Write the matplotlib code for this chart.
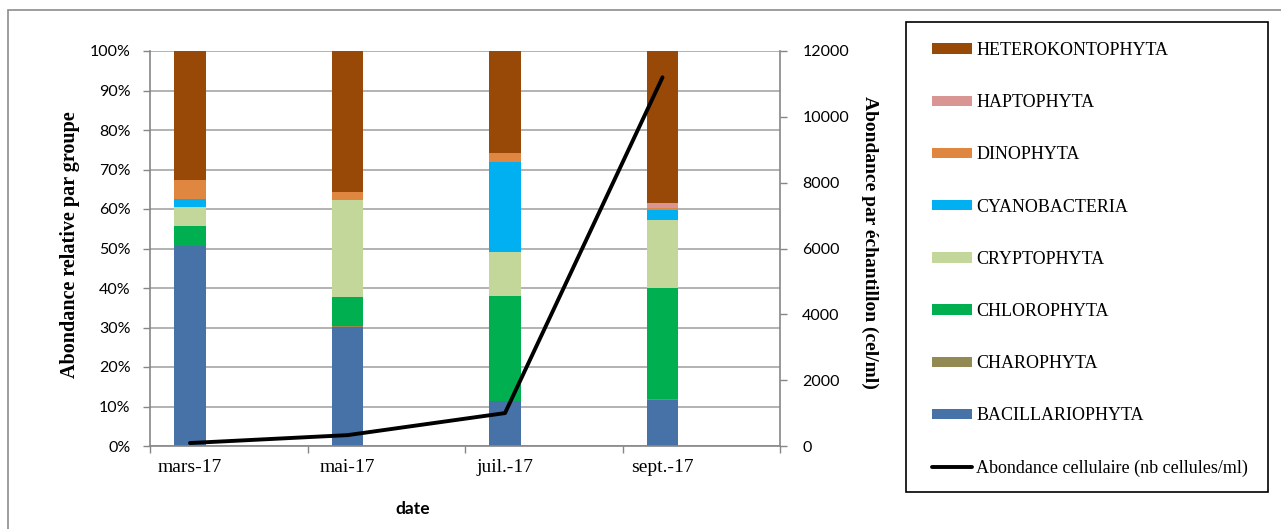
import numpy as np
import matplotlib
matplotlib.use('Agg')
import matplotlib.pyplot as plt
from matplotlib.ticker import PercentFormatter, FixedLocator
from matplotlib.patches import Rectangle

dates = ['mars-17', 'mai-17', 'juil.-17', 'sept.-17']

# relative abundance per group (%), stacked bottom -> top
bacillariophyta = [50.7, 30.2, 11.3, 11.6]
charophyta = [0.0, 0.3, 0.0, 0.3]
chlorophyta = [5.1, 7.3, 26.8, 28.0]
cryptophyta = [4.6, 24.5, 10.9, 17.3]
cyanobacteria = [2.1, 0.0, 23.0, 2.5]
dinophyta = [4.8, 2.0, 2.2, 0.5]
haptophyta = [0.0, 0.0, 0.0, 1.4]
heterokontophyta = [32.7, 35.7, 25.8, 38.4]

# cell abundance (cells/ml)
abondance = [90, 330, 1000, 11200]

groups = [
    ('BACILLARIOPHYTA', bacillariophyta, '#4672A8'),
    ('CHAROPHYTA', charophyta, '#938953'),
    ('CHLOROPHYTA', chlorophyta, '#00B050'),
    ('CRYPTOPHYTA', cryptophyta, '#C4D79B'),
    ('CYANOBACTERIA', cyanobacteria, '#00B0F0'),
    ('DINOPHYTA', dinophyta, '#DF8640'),
    ('HAPTOPHYTA', haptophyta, '#D99594'),
    ('HETEROKONTOPHYTA', heterokontophyta, '#984807'),
]

W, H = 1281, 529
fig = plt.figure(figsize=(W / 100, H / 100), dpi=100)
ax = fig.add_axes([150 / W, 1 - 446 / H, 630 / W, 395 / H])

x = np.arange(len(dates)) + 0.254
bottom = np.zeros(len(dates))
handles = []
for name, vals, col in groups:
    b = ax.bar(x, vals, width=0.2, bottom=bottom, color=col, label=name,
               edgecolor='none', zorder=2)
    bottom += np.array(vals)
    handles.append(b)

ax.set_xlim(0, 4)
ax.set_ylim(0, 100)
ax.set_yticks(np.arange(0, 101, 10))
ax.yaxis.set_major_formatter(PercentFormatter(decimals=0))
ax.grid(axis='y', color='#A6A6A6', lw=1.2, zorder=0)
ax.set_axisbelow(True)

# date axis: ticks at the boundaries, labels under the bars
ax.xaxis.set_major_locator(FixedLocator(np.arange(0, 5)))
ax.xaxis.set_major_formatter(plt.NullFormatter())
ax.xaxis.set_minor_locator(FixedLocator(x))
ax.set_xticklabels(dates, minor=True, family='Liberation Serif', fontsize=14)
ax.tick_params(axis='x', which='major', length=5, color='#868686', width=1)
ax.tick_params(axis='x', which='minor', length=0, pad=9)
ax.tick_params(axis='y', length=5, color='#868686', width=1, pad=9,
               labelsize=11.5)
for t in ax.get_yticklabels():
    t.set_family('Lato')

for s in ['top', 'right']:
    ax.spines[s].set_visible(False)
for s in ['left', 'bottom']:
    ax.spines[s].set_color('#868686')
    ax.spines[s].set_linewidth(1.2)

ax.set_ylabel('Abondance relative par groupe', family='Liberation Serif',
              fontweight='bold', fontsize=14.5)
ax.yaxis.set_label_coords(-0.111, 0.51)
ax.set_xlabel('date', family='Lato', fontweight='bold', fontsize=12.5)
ax.xaxis.set_label_coords(0.417, -0.14)

ax2 = ax.twinx()
line, = ax2.plot(x, abondance, color='black', lw=2.8, solid_capstyle='round',
                 label='Abondance cellulaire (nb cellules/ml)', zorder=5)
ax2.set_ylim(0, 12000)
ax2.set_yticks(np.arange(0, 12001, 2000))
ax2.tick_params(axis='y', length=5, color='#868686', width=1, pad=11,
                labelsize=11.5)
for t in ax2.get_yticklabels():
    t.set_family('Lato')
for s in ['top', 'left', 'bottom']:
    ax2.spines[s].set_visible(False)
ax2.spines['right'].set_color('#868686')
ax2.spines['right'].set_linewidth(1.2)
ax2.set_ylabel('Abondance par échantillon (cel/ml)', family='Liberation Serif',
               fontweight='bold', fontsize=14, rotation=270)
ax2.yaxis.set_label_coords(1.156, 0.515)

# outer chart frame (cropped on right and bottom)
fig.patches.append(Rectangle((8 / W, -0.5), 2, 1.5 - 10 / H,
                             transform=fig.transFigure, fill=False,
                             edgecolor='#8C8C8C', lw=1.2))
# legend box
fig.patches.append(Rectangle((906 / W, 1 - 492 / H), 362 / W, 470 / H,
                             transform=fig.transFigure, fill=False,
                             edgecolor='black', lw=1.2))

leg_handles = handles[::-1] + [line]
leg_labels = [g[0] for g in groups[::-1]] + [line.get_label()]
fig.legend(leg_handles, leg_labels, loc='upper left',
           bbox_to_anchor=(932 / W, 1 - 42 / H), frameon=False,
           borderpad=0, borderaxespad=0, handlelength=2.2, handleheight=0.5,
           handletextpad=0.25, labelspacing=1.95,
           prop={'family': 'Liberation Serif', 'size': 13})

fig.savefig('out.png', dpi=100)
